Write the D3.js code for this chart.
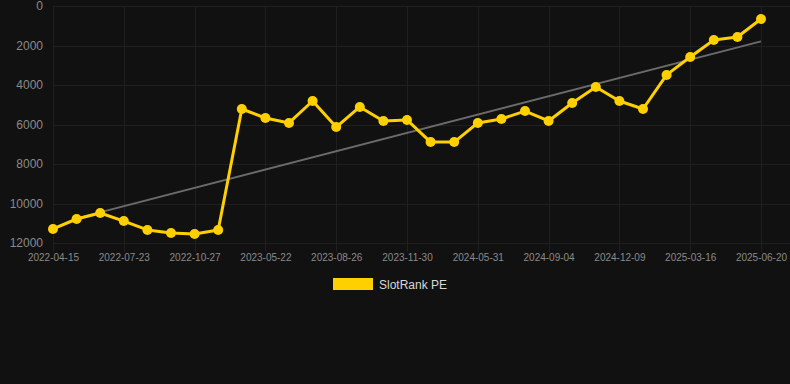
<!DOCTYPE html>
<html><head><meta charset="utf-8">
<script src="https://cdn.jsdelivr.net/npm/d3@7"></script>
<style>html,body{margin:0;padding:0;background:#111111;}svg{display:block;}</style>
</head><body>
<svg id="c" width="790" height="384"></svg>
<script>
const dates = ["2022-04-15","2022-05-18","2022-06-20","2022-07-23","2022-08-24","2022-09-25","2022-10-27","2022-11-28","2023-02-23","2023-05-22","2023-06-23","2023-07-25","2023-08-26","2023-09-27","2023-10-29","2023-11-30","2024-01-30","2024-03-31","2024-05-31","2024-07-02","2024-08-03","2024-09-04","2024-10-06","2024-11-07","2024-12-09","2025-01-10","2025-02-12","2025-03-16","2025-04-17","2025-05-19","2025-06-20"];
const seriesName = "SlotRank PE";
const values = [11290,10785,10480,10890,11340,11490,11545,11340,5215,5670,5920,4810,6130,5110,5820,5770,6890,6890,5920,5720,5320,5820,4910,4100,4810,5215,3490,2580,1720,1570,660];
const yTicks = [0,2000,4000,6000,8000,10000,12000];

(function(){
const svg = d3.select("#c");
const pLeft = 53, pRight = 761, pTop = 6, pBottom = 243, gridRight = 790;
const x = d3.scalePoint().domain(dates).range([pLeft, pRight]);
const y = d3.scaleLinear().domain([0, 12000]).range([pTop, pBottom]);
const xTicks = dates.filter((d,i)=> i % 3 === 0);

// grid
const g = svg.append("g");
g.selectAll(".hg").data(yTicks).join("line")
  .attr("x1", pLeft).attr("x2", gridRight)
  .attr("y1", d=>Math.round(y(d))+0.5).attr("y2", d=>Math.round(y(d))+0.5)
  .attr("stroke", "#1f1f1f").attr("stroke-width", 1);
g.selectAll(".vg").data(xTicks).join("line")
  .attr("x1", d=>Math.round(x(d))+0.5).attr("x2", d=>Math.round(x(d))+0.5)
  .attr("y1", pTop).attr("y2", pBottom+9)
  .attr("stroke", "#1f1f1f").attr("stroke-width", 1);

// y axis labels
const yAxis = d3.axisLeft(y).tickValues(yTicks).tickSize(0).tickPadding(0).tickFormat(d3.format("d"));
const ya = svg.append("g").attr("transform", "translate(43,0)").call(yAxis);
ya.select(".domain").remove();
ya.selectAll("text").attr("fill", "#8a8a8a").attr("font-size", "12px").attr("font-family", "Liberation Sans, Arial, sans-serif");

// x axis labels
const xAxis = d3.axisBottom(x).tickValues(xTicks).tickSize(0).tickPadding(0);
const xa = svg.append("g").attr("transform", `translate(0,${pBottom+11})`).call(xAxis);
xa.select(".domain").remove();
xa.selectAll("text").attr("fill", "#8a8a8a").attr("font-size", "10px").attr("font-family", "Liberation Sans, Arial, sans-serif");

// trend line (least squares on index), drawn from the second point to the last
const n = values.length;
const idx = d3.range(n);
const mx = d3.mean(idx), my = d3.mean(values);
const slope = d3.sum(idx, i => (i-mx)*(values[i]-my)) / d3.sum(idx, i => (i-mx)*(i-mx));
const icpt = my - slope*mx;
svg.append("line")
  .attr("x1", x(dates[1])).attr("y1", y(icpt + slope))
  .attr("x2", x(dates[n-1])).attr("y2", y(icpt + slope*(n-1)))
  .attr("stroke", "#6b6b6b").attr("stroke-width", 2);

// data line
const color = "#ffd000";
svg.append("path").datum(values)
  .attr("fill", "none").attr("stroke", color).attr("stroke-width", 3)
  .attr("stroke-linejoin", "round")
  .attr("d", d3.line().x((d,i)=>x(dates[i])).y(d=>y(d)));
svg.selectAll(".pt").data(values).join("circle")
  .attr("cx", (d,i)=>x(dates[i])).attr("cy", d=>y(d)).attr("r", 5)
  .attr("fill", color);

// legend
svg.append("rect").attr("x", 333).attr("y", 278).attr("width", 40).attr("height", 12).attr("fill", color);
svg.append("text").attr("x", 379).attr("y", 288.5).text(seriesName)
  .attr("fill", "#d8d8d8").attr("font-size", "12px").attr("font-family", "Liberation Sans, Arial, sans-serif");
})();
</script>
</body></html>
